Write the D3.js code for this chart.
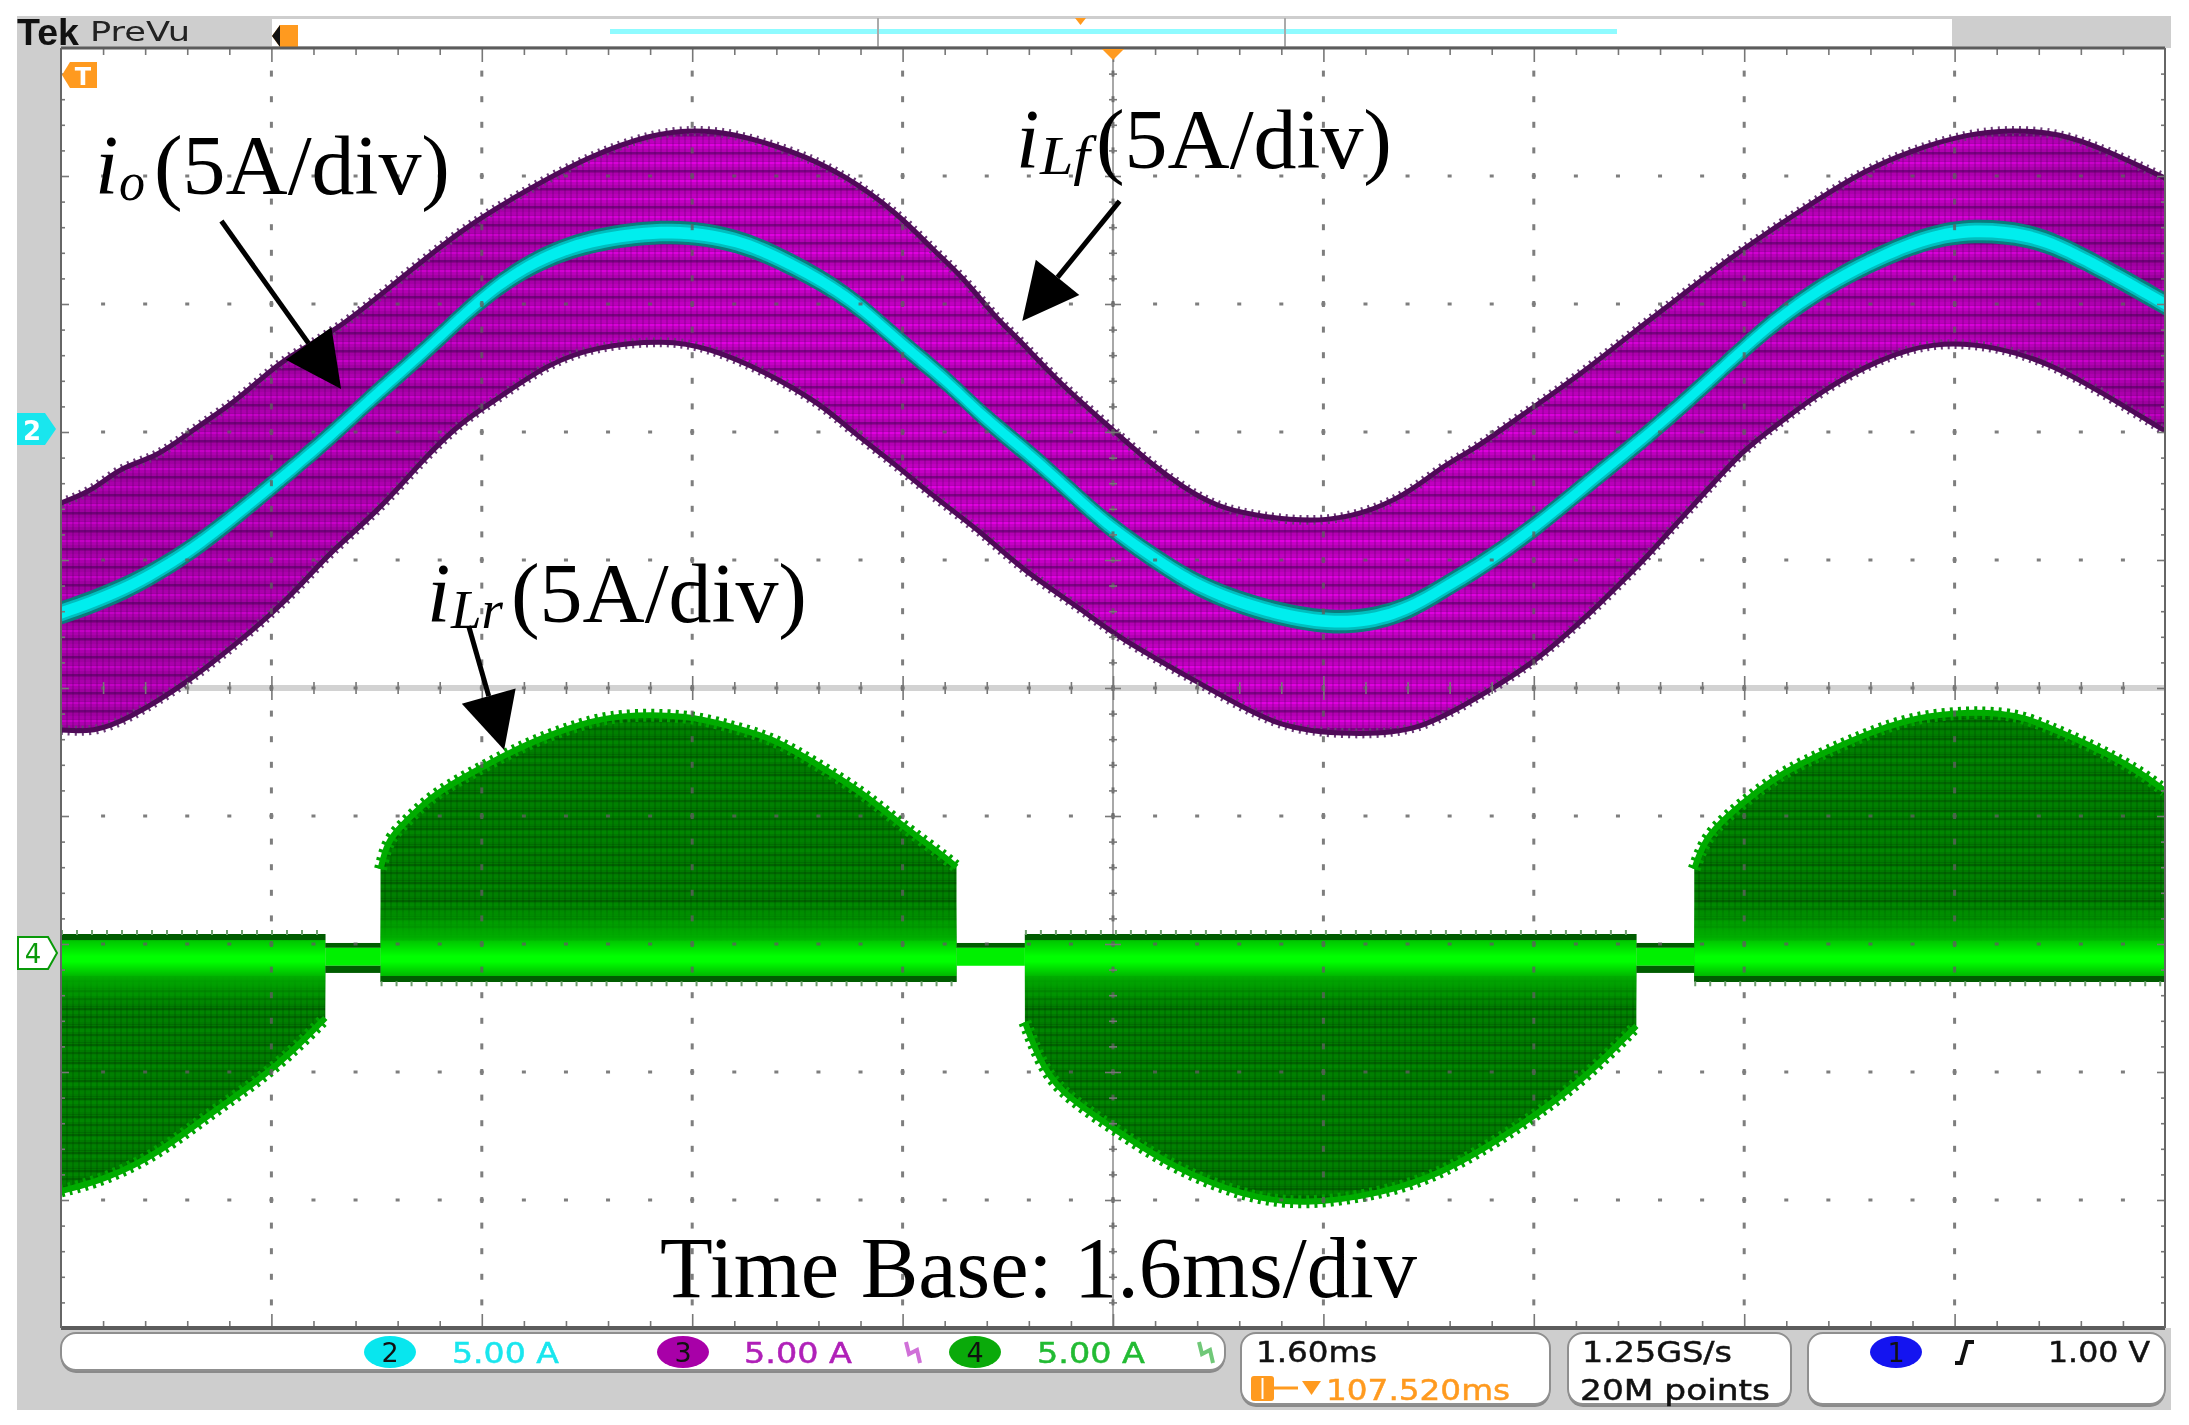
<!DOCTYPE html>
<html>
<head>
<meta charset="utf-8">
<script src="https://cdn.jsdelivr.net/npm/d3@7/dist/d3.min.js"></script>
<style>
  html, body { margin: 0; padding: 0; background: #fff; }
  svg { display: block; filter: blur(0.6px); }
</style>
</head>
<body>
<div id="vis"></div>
<script>
const width = 2189;
const height = 1425;

// readings off the scope screen: [time in ms, current in A]
const ilfUpper = [[0,-2.77],[.25,-2.27],[.45,-1.37],[.73,-.98],[1.0,.08],[1.31,1.13],[1.51,2.03],[1.72,2.93],[2.11,4.02],[2.53,5.78],[3.06,7.97],[3.49,9.30],[4.02,10.80],[4.50,11.65],[4.80,11.80],[5.09,11.70],[5.56,11.00],[5.95,10.08],[6.37,8.52],[6.63,7.11],[6.86,6.05],[7.12,4.38],[7.27,3.71],[7.59,1.91],[8.00,.08],[8.28,-1.21],[8.53,-2.15],[8.79,-2.93],[9.11,-3.3],[9.64,-3.6],[10.17,-2.72],[10.49,-1.37],[10.74,-.70],[11.09,.59],[11.57,2.30],[11.95,3.87],[12.31,5.27],[12.64,6.6],[12.97,7.77],[13.34,9.02],[13.71,10.20],[14.07,11.00],[14.50,11.65],[14.82,11.80],[15.19,11.70],[15.56,11.00],[16,9.92]];
const ilfLower = [[0,-11.64],[.25,-11.72],[.50,-11.25],[.96,-9.8],[1.34,-8.24],[1.61,-7.07],[1.84,-5.9],[2.04,-4.73],[2.42,-3.05],[2.73,-1.21],[3.03,.35],[3.33,1.33],[3.70,2.66],[4.07,3.35],[4.60,3.60],[4.92,3.30],[5.35,2.38],[5.78,1.09],[6.0,.08],[6.33,-1.21],[6.64,-2.54],[7.01,-3.95],[7.31,-5.39],[7.77,-6.95],[8.03,-8.0],[8.64,-9.77],[9.10,-11.09],[9.44,-11.75],[10.19,-11.85],[10.53,-11.09],[10.87,-10.08],[11.19,-9.02],[11.40,-8.13],[11.63,-7.07],[11.83,-6.05],[12.06,-4.88],[12.26,-3.71],[12.52,-2.27],[12.79,-.70],[13.1,.47],[13.4,1.64],[13.81,2.81],[14.24,3.55],[14.72,3.35],[15.13,2.66],[15.5,1.60],[16,.04]];
const io = [[0,-7.07],[.50,-6.17],[1.0,-4.61],[1.38,-3.05],[1.84,-1.09],[2.10,.08],[2.40,1.52],[2.78,3.20],[3.27,5.63],[3.70,6.95],[4.12,7.60],[4.65,7.90],[5.14,7.55],[5.56,6.56],[6.0,5.27],[6.33,3.71],[6.76,1.91],[7.01,.59],[7.42,-1.09],[7.85,-3.16],[8.08,-4.10],[8.41,-5.27],[8.66,-6.05],[9.04,-6.84],[9.67,-7.60],[10.17,-7.15],[10.49,-6.17],[10.87,-5.0],[11.25,-3.55],[11.55,-2.27],[11.83,-1.09],[12.11,.08],[12.52,1.95],[12.92,3.87],[13.25,5.16],[13.53,6.05],[13.83,6.84],[14.24,7.70],[14.6,7.90],[14.95,7.70],[15.2,7.25],[15.56,6.29],[16,5.00]];

// iLr lobes, current relative to the channel 4 marker
const lobeA = [[0,-9.3],[.34,-8.85],[.76,-7.77],[1.13,-6.29],[1.51,-4.96],[1.78,-3.75],[2.01,-2.54]];
const lobeB = [[2.43,3.28],[2.48,4.34],[2.58,4.92],[2.80,6.05],[3.01,6.72],[3.38,7.75],[3.65,8.40],[3.96,8.95],[4.23,9.30],[4.76,9.30],[5.09,8.85],[5.41,8.40],[5.72,7.46],[6.10,6.25],[6.37,5.08],[6.69,3.87],[6.81,3.36]];
const lobeC = [[7.33,-2.70],[7.43,-4.06],[7.58,-5.39],[8.01,-6.88],[8.46,-8.40],[8.99,-9.50],[9.44,-9.85],[10.03,-9.41],[10.49,-8.67],[11.07,-6.88],[11.58,-4.96],[11.98,-2.85]];
const lobeD = [[12.42,3.28],[12.50,4.45],[12.67,5.35],[12.90,6.33],[13.13,7.15],[13.42,7.85],[13.77,8.65],[14.18,9.35],[14.81,9.45],[15.10,8.85],[15.44,8.10],[15.79,7.15],[16,6.33]];
const lobes = [lobeA, lobeB, lobeC, lobeD];
const gaps = [[2.01,2.43],[6.81,7.33],[11.98,12.42]];
const ch4Zero = -20.35;

const channelNames = ["2", "3", "4"];
const channelScales = ["5.00 A", "5.00 A", "5.00 A"];
const timeBase = "1.60ms";
const trigPos = "107.520ms";
const sampleLines = ["1.25GS/s", "20M points"];
const trigLevel = "1.00 V";

const x = d3.scaleLinear().domain([0, 16]).range([61, 2165]);
const y = d3.scaleLinear().domain([15, -35]).range([48, 1328]);
const y4 = v => y(v + ch4Zero);

const svg = d3.select("#vis").append("svg")
  .attr("width", width)
  .attr("height", height);

const defs = svg.append("defs");

function stripes(id, w, h, base, rows, lineCol) {
  const p = defs.append("pattern").attr("id", id)
    .attr("patternUnits", "userSpaceOnUse")
    .attr("width", w).attr("height", h);
  p.append("rect").attr("width", w).attr("height", h).attr("fill", base);
  rows.forEach(r => {
    p.append("rect").attr("y", r[0]).attr("width", w).attr("height", r[1]).attr("fill", r[2]);
  });
  p.append("rect").attr("width", 2).attr("height", h).attr("fill", lineCol);
}
stripes("purple", 6, 18, "#b400b4",
  [[0, 2, "#e000e0"], [2, 3, "#c400c4"], [8, 2, "#7c0084"], [10, 1, "#980098"], [14, 3, "#c000c0"]],
  "rgba(70,0,80,0.2)");
stripes("green", 6, 18, "#007a00",
  [[0, 2, "#006200"], [3, 3, "#008600"], [8, 2, "#006600"], [11, 3, "#008000"], [16, 1, "#006c00"]],
  "rgba(0,50,0,0.2)");

function vGrad(id, stops) {
  const g = defs.append("linearGradient").attr("id", id)
    .attr("x1", 0).attr("y1", 0).attr("x2", 0).attr("y2", 1);
  stops.forEach(s => g.append("stop").attr("offset", s[0]).attr("stop-color", s[1]).attr("stop-opacity", s[2]));
}
vGrad("bandGrad", [[0, "#00c400", 1], [0.45, "#00ff00", 1], [0.6, "#00ff00", 1], [1, "#00b800", 1]]);
vGrad("fadeUp", [[0, "#00b000", 0], [1, "#00b800", 0.95]]);
vGrad("fadeDown", [[0, "#00b000", 0.95], [1, "#00a000", 0]]);

const shade = defs.append("linearGradient").attr("id", "envShade").attr("x1", 0).attr("y1", 0).attr("x2", 1).attr("y2", 0);
[[0, .16], [.2, .12], [.3, 0], [.65, 0], [.8, .08], [.9, .03], [1, .18]].forEach(s => {
  shade.append("stop").attr("offset", s[0]).attr("stop-color", "#300038").attr("stop-opacity", s[1]);
});

defs.append("clipPath").attr("id", "plotClip").append("rect")
  .attr("x", x(0)).attr("y", y(15)).attr("width", x(16) - x(0)).attr("height", y(-35) - y(15));

// instrument chrome
svg.append("rect").attr("x", 17).attr("y", 16).attr("width", 2154).attr("height", 1394).attr("fill", "#cecece");
svg.append("rect").attr("x", 272).attr("y", 19).attr("width", 1680).attr("height", 27).attr("fill", "#fff");
svg.append("rect").attr("x", x(0)).attr("y", y(15)).attr("width", 2172 - x(0)).attr("height", y(-35) - y(15)).attr("fill", "#fff");

// record view strip
svg.append("rect").attr("x", 610).attr("y", 29).attr("width", 1007).attr("height", 5).attr("fill", "#8ffbff");
[878, 1285].forEach(px => svg.append("line").attr("x1", px).attr("x2", px).attr("y1", 18).attr("y2", 47).attr("stroke", "#aaa").attr("stroke-width", 2));
svg.append("path").attr("d", "M1075,18 h11 l-5.5,7 z").attr("fill", "#ff9a1f");
svg.append("path").attr("d", "M272,36 l8,-11 h18 v22 h-18 z").attr("fill", "#ff9a1f");
svg.append("path").attr("d", "M272,36 l8,-11 v22 z").attr("fill", "#111");

// centre crosshair under the traces
svg.append("rect").attr("x", x(0)).attr("y", y(-10) - 3).attr("width", x(16) - x(0)).attr("height", 6).attr("fill", "#d2d2d2");
svg.append("line").attr("x1", x(8)).attr("x2", x(8)).attr("y1", y(15)).attr("y2", y(-35)).attr("stroke", "#a8a8a8").attr("stroke-width", 2);

const plot = svg.append("g").attr("clip-path", "url(#plotClip)");

const line = d3.line().x(d => x(d[0])).y(d => y(d[1])).curve(d3.curveBasis);
const line4 = d3.line().x(d => x(d[0])).y(d => y4(d[1])).curve(d3.curveBasis);

// iLf envelope
const envPath = line(ilfUpper) + "L" + line(ilfLower.slice().reverse()).slice(1) + "Z";
plot.append("path").attr("d", envPath).attr("fill", "url(#purple)");
plot.append("path").attr("d", envPath).attr("fill", "url(#envShade)");
[ilfUpper, ilfLower].forEach(edge => {
  plot.append("path").attr("d", line(edge)).attr("fill", "none")
    .attr("stroke", "#6b3a78").attr("stroke-width", 10).attr("stroke-dasharray", "2 5");
  plot.append("path").attr("d", line(edge)).attr("fill", "none")
    .attr("stroke", "#4f0a58").attr("stroke-width", 5);
});

// io trace, constant vertical thickness like a real trace
const traceArea = h => d3.area().x(d => x(d[0])).y0(d => y(d[1] + h)).y1(d => y(d[1] - h)).curve(d3.curveBasis);
plot.append("path").attr("d", traceArea(0.46)(io)).attr("fill", "#0a7c7c");
plot.append("path").attr("d", traceArea(0.34)(io)).attr("fill", "#00bebe");
plot.append("path").attr("d", traceArea(0.23)(io)).attr("fill", "#00eeee");

// iLr lobes
lobes.forEach(lobe => {
  const up = lobe[1][1] > 0;
  const base = up ? -1.13 : 0.74;
  const area = d3.area().x(d => x(d[0])).y0(y4(base)).y1(d => y4(d[1])).curve(d3.curveBasis);
  const t0 = x(lobe[0][0]);
  const t1 = x(lobe[lobe.length - 1][0]);

  plot.append("path").attr("d", area(lobe)).attr("fill", "url(#green)");
  plot.append("path").attr("d", line4(lobe)).attr("fill", "none")
    .attr("stroke", "#00a400").attr("stroke-width", 13).attr("stroke-dasharray", "3 5");
  plot.append("path").attr("d", line4(lobe)).attr("fill", "none")
    .attr("stroke", "#00ac00").attr("stroke-width", 6);

  if (up) {
    plot.append("rect").attr("x", t0).attr("width", t1 - t0)
      .attr("y", y4(2)).attr("height", y4(0.5) - y4(2)).attr("fill", "url(#fadeUp)");
    plot.append("rect").attr("x", t0).attr("width", t1 - t0)
      .attr("y", y4(-0.9)).attr("height", y4(-1.13) - y4(-0.9)).attr("fill", "#005c00");
    plot.append("line").attr("x1", t0).attr("x2", t1).attr("y1", y4(-1.2)).attr("y2", y4(-1.2))
      .attr("stroke", "#6f9f6f").attr("stroke-width", 5).attr("stroke-dasharray", "2 13");
  } else {
    plot.append("rect").attr("x", t0).attr("width", t1 - t0)
      .attr("y", y4(-0.9)).attr("height", y4(-2.2) - y4(-0.9)).attr("fill", "url(#fadeDown)");
    plot.append("rect").attr("x", t0).attr("width", t1 - t0)
      .attr("y", y4(0.74)).attr("height", y4(0.5) - y4(0.74)).attr("fill", "#005c00");
    plot.append("line").attr("x1", t0).attr("x2", t1).attr("y1", y4(0.8)).attr("y2", y4(0.8))
      .attr("stroke", "#6f9f6f").attr("stroke-width", 5).attr("stroke-dasharray", "2 13");
  }
  plot.append("rect").attr("x", t0).attr("width", t1 - t0)
    .attr("y", y4(0.5)).attr("height", y4(-0.9) - y4(0.5)).attr("fill", "url(#bandGrad)");
});

gaps.forEach((g, i) => {
  const t0 = x(g[0]);
  const w = x(g[1]) - t0;
  plot.append("rect").attr("x", t0).attr("width", w).attr("y", y4(0.39)).attr("height", y4(0.2) - y4(0.39)).attr("fill", "#005c00");
  plot.append("rect").attr("x", t0).attr("width", w).attr("y", y4(0.2)).attr("height", y4(-0.5) - y4(0.2)).attr("fill", "#00f000");
  if (i !== 1) {
    plot.append("rect").attr("x", t0).attr("width", w).attr("y", y4(-0.5)).attr("height", y4(-0.78) - y4(-0.5)).attr("fill", "#005c00");
  }
});

// graticule dots
const grat = svg.append("g").attr("fill", "#5f5f5f").attr("opacity", 0.8);
const majorT = d3.range(1, 10).map(i => i * 1.6);
const minorT = d3.range(1, 50).map(i => i * 0.32);
const majorA = d3.range(1, 10).map(i => 15 - i * 5);
const minorA = d3.range(1, 50).map(i => 15 - i * 1);
majorT.forEach(t => {
  minorA.forEach(a => {
    grat.append("rect").attr("x", x(t) - 1.5).attr("y", y(a) - 3).attr("width", 3).attr("height", 6);
  });
});
majorA.forEach(a => {
  minorT.forEach(t => {
    grat.append("rect").attr("x", x(t) - 2).attr("y", y(a) - 1.5).attr("width", 4).attr("height", 3);
  });
});

// frame rulers with d3 axes
function ruler(axis, size, values, px, py, col) {
  const g = svg.append("g").attr("transform", `translate(${px},${py})`)
    .call(axis.tickValues(values).tickSize(size).tickFormat(""));
  g.select(".domain").remove();
  g.selectAll(".tick line").attr("stroke", col || "#777").attr("stroke-width", 1.6);
  return g;
}
const minorOnly = minorT.filter((d, i) => (i + 1) % 5 !== 0);
const minorAOnly = minorA.filter((d, i) => (i + 1) % 5 !== 0);
ruler(d3.axisBottom(x), 7, minorOnly, 0, y(15));
ruler(d3.axisBottom(x), 14, majorT, 0, y(15));
ruler(d3.axisTop(x), 7, minorOnly, 0, y(-35));
ruler(d3.axisTop(x), 14, majorT, 0, y(-35));
ruler(d3.axisRight(y), 4, minorAOnly, x(0), 0);
ruler(d3.axisRight(y), 8, majorA, x(0), 0);
ruler(d3.axisLeft(y), 4, minorAOnly, x(16), 0);
ruler(d3.axisLeft(y), 8, majorA, x(16), 0);
ruler(d3.axisBottom(x), 6, minorOnly, 0, y(-10));
ruler(d3.axisTop(x), 6, minorOnly, 0, y(-10));
ruler(d3.axisBottom(x), 12, majorT, 0, y(-10));
ruler(d3.axisTop(x), 12, majorT, 0, y(-10));
ruler(d3.axisRight(y), 4, minorAOnly, x(8), 0);
ruler(d3.axisLeft(y), 4, minorAOnly, x(8), 0);
ruler(d3.axisRight(y), 8, majorA, x(8), 0);
ruler(d3.axisLeft(y), 8, majorA, x(8), 0);

// frame
svg.append("line").attr("x1", x(0)).attr("x2", x(16)).attr("y1", y(15)).attr("y2", y(15)).attr("stroke", "#5c5c5c").attr("stroke-width", 3);
svg.append("line").attr("x1", x(0)).attr("x2", x(16)).attr("y1", y(-35)).attr("y2", y(-35)).attr("stroke", "#5c5c5c").attr("stroke-width", 4);
svg.append("line").attr("x1", x(0)).attr("x2", x(0)).attr("y1", y(15)).attr("y2", y(-35)).attr("stroke", "#666").attr("stroke-width", 2);
svg.append("line").attr("x1", x(16)).attr("x2", x(16)).attr("y1", y(15)).attr("y2", y(-35)).attr("stroke", "#666").attr("stroke-width", 2);

// trigger markers
svg.append("path").attr("d", `M${x(8) - 11},${y(15) + 1} h22 l-11,11 z`).attr("fill", "#ff9a1f");
svg.append("path").attr("d", "M62,75 l8,-13 h27 v26 h-27 z").attr("fill", "#ff9a1f");
svg.append("text").attr("x", 83).attr("y", 85).attr("text-anchor", "middle")
  .attr("font-family", "DejaVu Sans").attr("font-size", 24).attr("font-weight", "bold").attr("fill", "#fff").text("T");

// channel markers
svg.append("path").attr("d", "M17,413 h28 l11,16 l-11,16 h-28 z").attr("fill", "#19e6ee");
svg.append("text").attr("x", 32).attr("y", 440).attr("text-anchor", "middle")
  .attr("font-family", "DejaVu Sans").attr("font-size", 26).attr("font-weight", "bold").attr("fill", "#fff").text(channelNames[0]);
svg.append("path").attr("d", "M18,937 h30 l9,16 l-9,16 h-30 z").attr("fill", "#fff").attr("stroke", "#0a9a0a").attr("stroke-width", 2);
svg.append("text").attr("x", 33).attr("y", 963).attr("text-anchor", "middle")
  .attr("font-family", "DejaVu Sans").attr("font-size", 26).attr("fill", "#0a9a0a").text(channelNames[2]);

// scope header text
svg.append("text").attr("x", 17).attr("y", 45).attr("font-family", "Liberation Sans").attr("font-weight", "bold")
  .attr("font-size", 36).attr("textLength", 62).attr("lengthAdjust", "spacingAndGlyphs").attr("fill", "#111").text("Tek");
svg.append("text").attr("x", 90).attr("y", 41).attr("font-family", "DejaVu Sans")
  .attr("font-size", 26).attr("textLength", 100).attr("lengthAdjust", "spacingAndGlyphs").attr("fill", "#222").text("PreVu");

// readout boxes
function box(px, py, w, h) {
  svg.append("rect").attr("x", px).attr("y", py + 3).attr("width", w).attr("height", h).attr("rx", 15).attr("fill", "#8a8a8a");
  svg.append("rect").attr("x", px).attr("y", py).attr("width", w).attr("height", h).attr("rx", 15)
    .attr("fill", "#fff").attr("stroke", "#8f8f8f").attr("stroke-width", 2);
}
box(61, 1333, 1164, 37);
box(1241, 1333, 309, 71);
box(1568, 1333, 223, 71);
box(1808, 1333, 357, 71);

function readout(px, base, str, w, col, size) {
  svg.append("text").attr("x", px).attr("y", base).attr("font-family", "DejaVu Sans").attr("font-size", size || 29)
    .attr("textLength", w).attr("lengthAdjust", "spacingAndGlyphs")
    .attr("fill", col).attr("stroke", col).attr("stroke-width", 0.5).text(str);
}
function badge(cx, str, col) {
  svg.append("ellipse").attr("cx", cx).attr("cy", 1352).attr("rx", 26).attr("ry", 16).attr("fill", col);
  svg.append("text").attr("x", cx).attr("y", 1362).attr("text-anchor", "middle").attr("font-family", "DejaVu Sans")
    .attr("font-size", 27).attr("fill", "#111").text(str);
}
function coupling(px, col) {
  svg.append("path").attr("d", `M${px},1342 l3,12 l8,-4 l3,13`).attr("fill", "none").attr("stroke", col).attr("stroke-width", 4);
}
badge(390, channelNames[0], "#08e6ee");
readout(452, 1363, channelScales[0], 107, "#19e6ee");
badge(683, channelNames[1], "#a800a8");
readout(744, 1363, channelScales[1], 108, "#b020b8");
coupling(906, "#d070d8");
badge(975, channelNames[2], "#0aaa0a");
readout(1037, 1363, channelScales[2], 108, "#22bb33");
coupling(1199, "#70c878");

readout(1256, 1362, timeBase, 121, "#111");
svg.append("rect").attr("x", 1251).attr("y", 1376).attr("width", 23).attr("height", 25).attr("rx", 3).attr("fill", "#ff9a1f");
svg.append("line").attr("x1", 1262.5).attr("x2", 1262.5).attr("y1", 1378).attr("y2", 1399).attr("stroke", "#fff").attr("stroke-width", 2);
svg.append("line").attr("x1", 1274).attr("x2", 1298).attr("y1", 1388).attr("y2", 1388).attr("stroke", "#ff9a1f").attr("stroke-width", 3);
svg.append("path").attr("d", "M1302,1381 h19 l-9.5,14 z").attr("fill", "#ff9a1f");
readout(1326, 1400, trigPos, 184, "#ff9a1f");

readout(1582, 1362, sampleLines[0], 150, "#111");
readout(1580, 1400, sampleLines[1], 190, "#111");

svg.append("ellipse").attr("cx", 1896).attr("cy", 1352).attr("rx", 26).attr("ry", 16).attr("fill", "#1414f0");
svg.append("text").attr("x", 1896).attr("y", 1362).attr("text-anchor", "middle").attr("font-family", "DejaVu Sans")
  .attr("font-size", 27).attr("fill", "#111").text("1");
svg.append("path").attr("d", "M1955,1363 h6 l6,-21 h7").attr("fill", "none").attr("stroke", "#111").attr("stroke-width", 4);
readout(2048, 1362, trigLevel, 102, "#111");

// annotations placed in scope units
const serif = "Liberation Serif";
function callout(tx, base, sub, subW, parenX) {
  const g = svg.append("g").attr("font-family", serif).attr("fill", "#000");
  g.append("text").attr("x", tx).attr("y", base).attr("font-size", 84).attr("font-style", "italic").text("i");
  g.append("text").attr("x", tx + 24).attr("y", base + 6).attr("font-size", 54).attr("font-style", "italic")
    .attr("textLength", subW).attr("lengthAdjust", "spacingAndGlyphs").text(sub);
  g.append("text").attr("x", parenX).attr("y", base).attr("font-size", 84)
    .attr("textLength", 296).attr("lengthAdjust", "spacingAndGlyphs").text("(5A/div)");
}
callout(95, 194, "o", 26, 154);
callout(1016, 168, "Lf", 50, 1096);
callout(427, 622, "Lr", 52, 511);

const arrows = [
  { from: [1.22, 8.24], to: [2.13, 1.68] },
  { from: [8.05, 9.02], to: [7.31, 4.34] },
  { from: [3.10, -7.58], to: [3.37, -12.42] }
];
arrows.forEach(a => {
  const x0 = x(a.from[0]), y0 = y(a.from[1]), x1 = x(a.to[0]), y1 = y(a.to[1]);
  const len = Math.hypot(x1 - x0, y1 - y0);
  const ux = (x1 - x0) / len, uy = (y1 - y0) / len;
  const bx = x1 - ux * 56, by = y1 - uy * 56;
  svg.append("line").attr("x1", x0).attr("y1", y0).attr("x2", bx).attr("y2", by)
    .attr("stroke", "#000").attr("stroke-width", 5);
  svg.append("path")
    .attr("d", `M${x1},${y1}L${bx - uy * 28},${by + ux * 28}L${bx + uy * 28},${by - ux * 28}Z`)
    .attr("fill", "#000");
});

svg.append("text").attr("x", 660).attr("y", 1297).attr("font-family", serif).attr("font-size", 86)
  .attr("textLength", 757).attr("lengthAdjust", "spacingAndGlyphs").attr("fill", "#000")
  .text("Time Base: 1.6ms/div");
</script>
</body>
</html>
